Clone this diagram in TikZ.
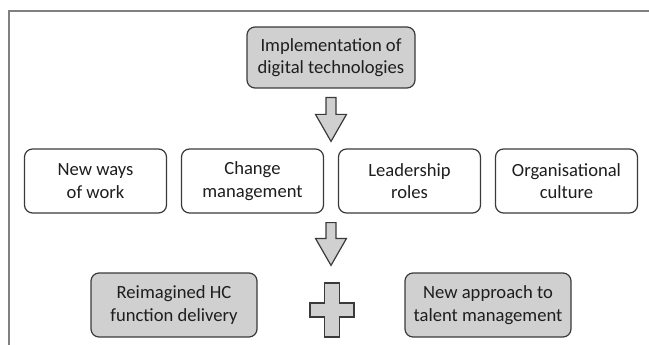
\documentclass[tikz,border=0pt]{standalone}
\usepackage{fontspec}
\setmainfont{Carlito}
\usetikzlibrary{calc}

\definecolor{boxgrey}{RGB}{208,208,208}
\definecolor{edgegrey}{RGB}{58,58,58}
\definecolor{framegrey}{RGB}{128,128,128}
\definecolor{textgrey}{RGB}{30,30,30}

\newcommand{\downblock}[2]{%
  \draw[blockarrow] ($(#1)+(-5,0)$) -- ($(#1)+(5,0)$) -- ($(#2)+(5,-27)$)
    -- ($(#2)+(15.5,-27)$) -- (#2) -- ($(#2)+(-15.5,-27)$) -- ($(#2)+(-5,-27)$) -- cycle;}

\begin{document}
\begin{tikzpicture}
    [x=1pt,y=-1pt,
     every node/.style={draw=edgegrey,line width=1.2pt,rounded corners=8pt,align=center,
       text=textgrey,font=\fontsize{18.6}{22.5}\selectfont,inner sep=0pt},
     greybox/.style={fill=boxgrey,minimum width=166pt,minimum height=64pt},
     whitebox/.style={fill=white,minimum width=142pt,minimum height=64pt},
     blockarrow/.style={draw=edgegrey,fill=boxgrey,line width=1.2pt,line join=miter}]
    \useasboundingbox (0,0) rectangle (649,345);
    \draw[framegrey,line width=1.5pt] (649,11) -| (9,345);

    \node[greybox,minimum width=168pt,minimum height=61pt] (dig) at (331,57.5) {Implementation of\\digital technologies};

    \node[whitebox] (nw) at (95.5,181) {New ways\\of work};
    \node[whitebox] (cm) at (252.5,181) {Change\\management};
    \node[whitebox] (lr) at (409.5,181) {Leadership\\roles};
    \node[whitebox] (oc) at (566.5,181) {Organisational\\culture};

    \node[greybox] (hc) at (174,305) {Reimagined HC\\function delivery};
    \node[greybox] (tm) at (488,305) {New approach to\\talent management};

    \coordinate (a1) at ($(dig.south)+(0,9)$);
    \coordinate (a1tip) at ($(dig.south |- cm.north)+(0,-7)$);
    \coordinate (a2) at ($(dig.south |- cm.south)+(0,9)$);
    \coordinate (a2tip) at ($(dig.south |- hc.north)+(0,-7)$);
    \downblock{a1}{a1tip}
    \downblock{a2}{a2tip}

    \coordinate (plus) at (332,310);
    \draw[blockarrow] ($(plus)+(-7.5,-27)$) -- ++(15,0) -- ++(0,20) -- ++(14.5,0) -- ++(0,14)
      -- ++(-14.5,0) -- ++(0,20) -- ++(-15,0) -- ++(0,-20) -- ++(-14.5,0) -- ++(0,-14)
      -- ++(14.5,0) -- cycle;
  \end{tikzpicture}
\end{document}
